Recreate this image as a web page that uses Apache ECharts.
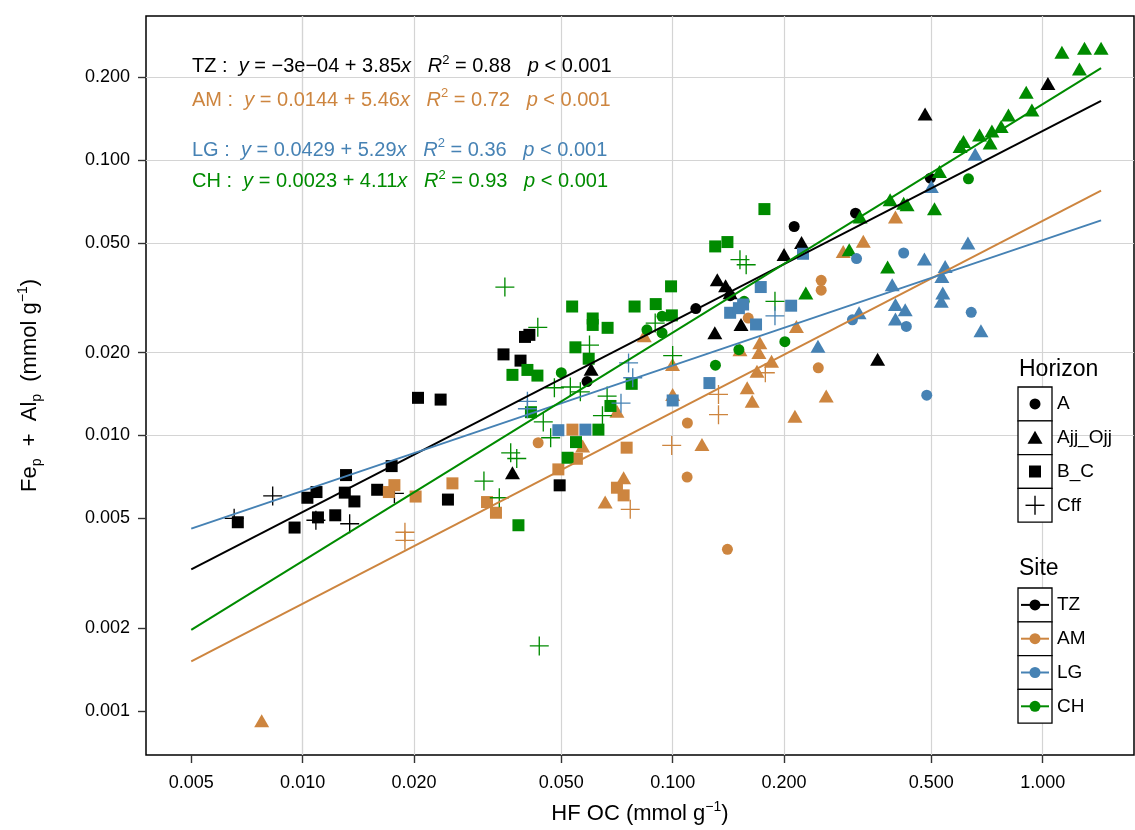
<!DOCTYPE html>
<html>
<head>
<meta charset="utf-8">
<script src="https://cdn.jsdelivr.net/npm/echarts@6/dist/echarts.min.js"></script>
<style>
  html, body { margin: 0; padding: 0; background: #ffffff; }
  #chart { width: 1135px; height: 830px; }
</style>
</head>
<body>
<div id="chart"></div>
<script>
// ---- axis ticks and ranges (mmol g-1, log10 scale) ----
const xTicks = [0.005, 0.01, 0.02, 0.05, 0.1, 0.2, 0.5, 1];
const yTicks = [0.001, 0.002, 0.005, 0.01, 0.02, 0.05, 0.1, 0.2];
const xRange = [0.003773, 1.765];
const yRange = [0.000691, 0.3338];

const sites = ['TZ', 'AM', 'LG', 'CH'];
const horizons = ['A', 'Ajj_Ojj', 'B_C', 'Cff'];

// ---- observations: [HF OC, Fep + Alp] ----
const TZ_A = [[0.0587, 0.0157], [0.1155, 0.0289], [0.143, 0.0322], [0.213, 0.0574], [0.312, 0.0642], [0.497, 0.086]];
const TZ_Ajj = [[0.0369, 0.00732], [0.0602, 0.0174], [0.130, 0.0236], [0.132, 0.0368], [0.139, 0.035], [0.143, 0.033],
  [0.153, 0.0253], [0.2, 0.0454], [0.223, 0.0502], [0.358, 0.0189], [0.481, 0.147], [1.033, 0.190]];
const TZ_BC = [[0.0205, 0.0137], [0.0236, 0.0135], [0.0174, 0.00774], [0.0131, 0.00718], [0.0109, 0.00623],
  [0.0103, 0.00594], [0.0130, 0.0062], [0.0138, 0.00576], [0.0159, 0.00635], [0.0247, 0.00585], [0.00668, 0.00484],
  [0.00951, 0.00463], [0.0110, 0.00504], [0.01225, 0.00513], [0.041, 0.0232], [0.0399, 0.0228], [0.0349, 0.0197],
  [0.0388, 0.0187], [0.0495, 0.00659]];
const TZ_Cff = [[0.0083, 0.00603], [0.00653, 0.005], [0.01086, 0.00492], [0.0134, 0.00478], [0.0177, 0.00616]];

const AM_A = [[0.0433, 0.00941], [0.1096, 0.0111], [0.1094, 0.00706], [0.1406, 0.00386], [0.160, 0.0267],
  [0.252, 0.0366], [0.252, 0.0337], [0.2475, 0.0176]];
const AM_Ajj = [[0.00775, 0.00092], [0.0571, 0.00915], [0.0657, 0.00573], [0.0707, 0.01225], [0.0737, 0.00702],
  [0.0838, 0.0230], [0.0999, 0.0181], [0.1, 0.0141], [0.120, 0.00928], [0.152, 0.0205], [0.172, 0.0217],
  [0.171, 0.0200], [0.185, 0.0186], [0.159, 0.0149], [0.164, 0.0133], [0.169, 0.0171], [0.216, 0.0249],
  [0.214, 0.01175], [0.260, 0.0139], [0.289, 0.0466], [0.3275, 0.0507], [0.4, 0.0621]];
const AM_BC = [[0.0171, 0.00623], [0.0177, 0.0066], [0.0202, 0.006], [0.0254, 0.0067], [0.0315, 0.00573],
  [0.0333, 0.00524], [0.0491, 0.00753], [0.0536, 0.0105], [0.0551, 0.00823], [0.0707, 0.00646],
  [0.0737, 0.00606], [0.0751, 0.00903]];
const AM_Cff = [[0.0189, 0.00445], [0.0189, 0.00416], [0.0768, 0.00539], [0.0994, 0.0092], [0.133, 0.0141],
  [0.133, 0.0119], [0.178, 0.0169]];

const LG_A = [[0.306, 0.0263], [0.314, 0.0439], [0.421, 0.046], [0.428, 0.0249], [0.486, 0.014], [0.641, 0.028]];
const LG_Ajj = [[0.247, 0.0211], [0.319, 0.0279], [0.392, 0.0353], [0.4, 0.0299], [0.425, 0.0286], [0.4, 0.0265],
  [0.479, 0.0437], [0.545, 0.0411], [0.534, 0.0378], [0.537, 0.0329], [0.532, 0.0307], [0.628, 0.050],
  [0.681, 0.024], [0.5, 0.0802], [0.657, 0.1051]];
const LG_BC = [[0.0491, 0.01045], [0.0581, 0.0105], [0.1, 0.0134], [0.1257, 0.0155], [0.143, 0.0279],
  [0.151, 0.029], [0.155, 0.0299], [0.168, 0.0253], [0.173, 0.0346], [0.209, 0.0296], [0.225, 0.0457]];
const LG_Cff = [[0.0405, 0.0133], [0.0405, 0.0125], [0.0725, 0.0131], [0.076, 0.01835], [0.078, 0.0162],
  [0.189, 0.0272]];

const CH_A = [[0.05, 0.0169], [0.0852, 0.0242], [0.0936, 0.0271], [0.0936, 0.0236], [0.1305, 0.018],
  [0.151, 0.0205], [0.156, 0.0307], [0.201, 0.0219], [0.63, 0.0855]];
const CH_Ajj = [[0.229, 0.0329], [0.3, 0.0473], [0.321, 0.0621], [0.381, 0.0409], [0.387, 0.0718],
  [0.421, 0.0698], [0.43, 0.0688], [0.51, 0.0666], [0.526, 0.0909], [0.598, 0.112], [0.611, 0.1168],
  [0.675, 0.1235], [0.721, 0.1153], [0.729, 0.1277], [0.772, 0.1324], [0.808, 0.146], [0.9025, 0.1764],
  [0.935, 0.1522], [1.127, 0.2465], [1.257, 0.2144], [1.297, 0.2548], [1.438, 0.2548]];
const CH_BC = [[0.0369, 0.0166], [0.0405, 0.0173], [0.0431, 0.0165], [0.0414, 0.01215], [0.052, 0.0083],
  [0.0548, 0.00946], [0.0383, 0.00472], [0.0535, 0.0294], [0.0608, 0.0266], [0.0608, 0.0252], [0.0667, 0.0246],
  [0.0546, 0.0209], [0.0593, 0.019], [0.063, 0.0105], [0.0679, 0.0128], [0.0775, 0.0154], [0.0789, 0.0294],
  [0.09, 0.030], [0.0995, 0.0273], [0.099, 0.0348], [0.1303, 0.0486], [0.1406, 0.0504], [0.177, 0.0664]];
const CH_Cff = [[0.0352, 0.0346], [0.0432, 0.0247], [0.0479, 0.0149], [0.0529, 0.015], [0.0563, 0.0144],
  [0.0447, 0.0112], [0.0468, 0.00981], [0.0365, 0.00865], [0.0379, 0.00825], [0.0309, 0.00683],
  [0.034, 0.00594], [0.0436, 0.00172], [0.0596, 0.0213], [0.0665, 0.0139], [0.0646, 0.0118],
  [0.0897, 0.0256], [0.1, 0.0195], [0.152, 0.0435], [0.158, 0.0417], [0.189, 0.0307]];

// ---- fitted lines (end points, log-log) ----
const fitX = [0.005, 1.438];
const fitTZ = [0.003266, 0.1641];
const fitAM = [0.001511, 0.07756];
const fitLG = [0.004588, 0.0604];
const fitCH = [0.001967, 0.2157];

// ---- fit summaries ----
const eqIntercept = ['−3e−04', '0.0144', '0.0429', '0.0023'];
const eqSlope = ['3.85', '5.46', '5.29', '4.11'];
const eqR2 = ['0.88', '0.72', '0.36', '0.93'];
const eqP = ['0.001', '0.001', '0.001', '0.001'];

// ---- styling ----
const FONT = '"Liberation Sans", Arial, sans-serif';
const siteColor = { TZ: '#000000', AM: '#CD853F', LG: '#4682B4', CH: '#008B00' };
const PLUS = 'path://M9.3,0h1.4v9.3h9.3v1.4h-9.3v9.3h-1.4v-9.3h-9.3v-1.4h9.3z';
const horizonSymbol = { A: 'circle', Ajj_Ojj: 'triangle', B_C: 'rect', Cff: PLUS };
const horizonSize = { A: 11, Ajj_Ojj: [15, 13], B_C: 12, Cff: 19 };

const pointTable = {
  TZ: { A: TZ_A, Ajj_Ojj: TZ_Ajj, B_C: TZ_BC, Cff: TZ_Cff },
  AM: { A: AM_A, Ajj_Ojj: AM_Ajj, B_C: AM_BC, Cff: AM_Cff },
  LG: { A: LG_A, Ajj_Ojj: LG_Ajj, B_C: LG_BC, Cff: LG_Cff },
  CH: { A: CH_A, Ajj_Ojj: CH_Ajj, B_C: CH_BC, Cff: CH_Cff }
};
const fitTable = { TZ: fitTZ, AM: fitAM, LG: fitLG, CH: fitCH };

const series = [];

// background grid lines at the tick positions
series.push({
  type: 'scatter', data: [], silent: true, z: 0,
  markLine: {
    silent: true, symbol: 'none', animation: false, z: 0,
    label: { show: false },
    lineStyle: { color: '#d4d4d4', width: 1.2, type: 'solid' },
    data: xTicks.map(v => ({ xAxis: v })).concat(yTicks.map(v => ({ yAxis: v })))
  }
});

['TZ', 'AM', 'CH', 'LG'].forEach(site => {
  horizons.forEach(h => {
    series.push({
      type: 'scatter',
      name: site + ' ' + h,
      data: pointTable[site][h],
      symbol: horizonSymbol[h],
      symbolSize: horizonSize[h],
      itemStyle: { color: siteColor[site], opacity: 1 },
      z: 3,
      animation: false
    });
  });
});

sites.forEach(site => {
  const f = fitTable[site];
  series.push({
    type: 'line',
    name: site + ' fit',
    data: [[fitX[0], f[0]], [fitX[1], f[1]]],
    showSymbol: false,
    symbol: 'none',
    lineStyle: { color: siteColor[site], width: 2 },
    z: 4,
    animation: false
  });
});

// ---- equations ----
const eqY = [66.7, 100, 150, 181.7];
const graphics = [];
sites.forEach((site, i) => {
  const c = siteColor[site];
  const rich = {
    n: { fontSize: 20, fontFamily: FONT, fill: c, lineHeight: 26, verticalAlign: 'middle' },
    i: { fontSize: 20, fontFamily: FONT, fontStyle: 'italic', fill: c, lineHeight: 26, verticalAlign: 'middle' },
    s: { fontSize: 13, fontFamily: FONT, fill: c, lineHeight: 13, verticalAlign: 'top' }
  };
  const txt = '{n|' + site + ' :  }{i|y}{n| = ' + eqIntercept[i] + ' + ' + eqSlope[i] +
    '}{i|x}{n|   }{i|R}{s|2}{n| = ' + eqR2[i] + '   }{i|p}{n| < ' + eqP[i] + '}';
  graphics.push({
    type: 'text', x: 192, y: eqY[i], z: 10,
    style: { text: txt, rich: rich, fill: c, fontSize: 20, fontFamily: FONT, verticalAlign: 'middle', align: 'left' }
  });
});

// ---- legends ----
const LX = 1018, LW = 34, LH = 33.8;
function legendTitle(text, y) {
  graphics.push({ type: 'text', x: 1019, y: y, z: 10,
    style: { text: text, fontSize: 23, fontFamily: FONT, fill: '#000', verticalAlign: 'middle' } });
}
function legendLabel(text, y) {
  graphics.push({ type: 'text', x: 1057, y: y, z: 10,
    style: { text: text, fontSize: 19, fontFamily: FONT, fill: '#000', verticalAlign: 'middle' } });
}
function legendBox(y) {
  graphics.push({ type: 'rect', z: 10, shape: { x: LX, y: y, width: LW, height: LH },
    style: { fill: '#ffffff', stroke: '#000', lineWidth: 1.3 } });
}

legendTitle('Horizon', 370);
const hTop = 387;
horizons.forEach((h, k) => {
  const y0 = hTop + k * LH, cy = y0 + LH / 2, cx = LX + LW / 2;
  legendBox(y0);
  if (h === 'A') {
    graphics.push({ type: 'circle', z: 11, shape: { cx: cx, cy: cy, r: 5.5 }, style: { fill: '#000' } });
  } else if (h === 'Ajj_Ojj') {
    graphics.push({ type: 'polygon', z: 11, shape: { points: [[cx, cy - 7], [cx + 7.5, cy + 6], [cx - 7.5, cy + 6]] },
      style: { fill: '#000' } });
  } else if (h === 'B_C') {
    graphics.push({ type: 'rect', z: 11, shape: { x: cx - 6, y: cy - 6, width: 12, height: 12 }, style: { fill: '#000' } });
  } else {
    graphics.push({ type: 'line', z: 11, shape: { x1: cx - 9.5, y1: cy, x2: cx + 9.5, y2: cy }, style: { stroke: '#000', lineWidth: 1.4 } });
    graphics.push({ type: 'line', z: 11, shape: { x1: cx, y1: cy - 9.5, x2: cx, y2: cy + 9.5 }, style: { stroke: '#000', lineWidth: 1.4 } });
  }
  legendLabel(h, cy);
});

legendTitle('Site', 569);
const sTop = 588;
sites.forEach((s, k) => {
  const y0 = sTop + k * LH, cy = y0 + LH / 2, cx = LX + LW / 2;
  legendBox(y0);
  graphics.push({ type: 'line', z: 11, shape: { x1: LX + 3, y1: cy, x2: LX + LW - 3, y2: cy },
    style: { stroke: siteColor[s], lineWidth: 2 } });
  graphics.push({ type: 'circle', z: 12, shape: { cx: cx, cy: cy, r: 5.5 }, style: { fill: siteColor[s] } });
  legendLabel(s, cy);
});

const nameRich = {
  n: { fontSize: 22, fontFamily: FONT, color: '#000', lineHeight: 28, verticalAlign: 'middle' },
  s: { fontSize: 14, fontFamily: FONT, color: '#000', lineHeight: 14, verticalAlign: 'top' },
  b: { fontSize: 14, fontFamily: FONT, color: '#000', lineHeight: 14, verticalAlign: 'bottom' }
};

const option = {
  animation: false,
  backgroundColor: '#ffffff',
  grid: { left: 146, right: 1, top: 16, bottom: 74, show: true, borderColor: '#000', borderWidth: 1.5,
    backgroundColor: 'transparent', containLabel: false },
  xAxis: {
    type: 'log', logBase: 10, min: xRange[0], max: xRange[1],
    axisLine: { show: false },
    axisTick: { show: true, inside: false, length: 8, customValues: xTicks, lineStyle: { color: '#333', width: 1.4 } },
    axisLabel: { customValues: xTicks, formatter: v => Number(v).toFixed(3), fontSize: 18, fontFamily: FONT,
      color: '#000', margin: 19, showMinLabel: true, showMaxLabel: true },
    splitLine: { show: false }, minorTick: { show: false }, minorSplitLine: { show: false },
    name: '{n|HF OC (mmol g}{s|−1}{n|)}', nameLocation: 'middle', nameGap: 45,
    nameTextStyle: { rich: nameRich, fontSize: 22, fontFamily: FONT, color: '#000' }
  },
  yAxis: {
    type: 'log', logBase: 10, min: yRange[0], max: yRange[1],
    axisLine: { show: false },
    axisTick: { show: true, inside: false, length: 8, customValues: yTicks, lineStyle: { color: '#333', width: 1.4 } },
    axisLabel: { customValues: yTicks, formatter: v => Number(v).toFixed(3), fontSize: 18, fontFamily: FONT,
      color: '#000', margin: 16, showMinLabel: true, showMaxLabel: true },
    splitLine: { show: false }, minorTick: { show: false }, minorSplitLine: { show: false },
    name: '{n|Fe}{b|p}{n|  +  Al}{b|p}{n|  (mmol g}{s|−1}{n|)}', nameLocation: 'middle', nameGap: 102, nameRotate: 90,
    nameTextStyle: { rich: nameRich, fontSize: 22, fontFamily: FONT, color: '#000' }
  },
  series: series,
  graphic: graphics
};

const chart = echarts.init(document.getElementById('chart'), null, { renderer: 'canvas' });
chart.setOption(option);
</script>
</body>
</html>
